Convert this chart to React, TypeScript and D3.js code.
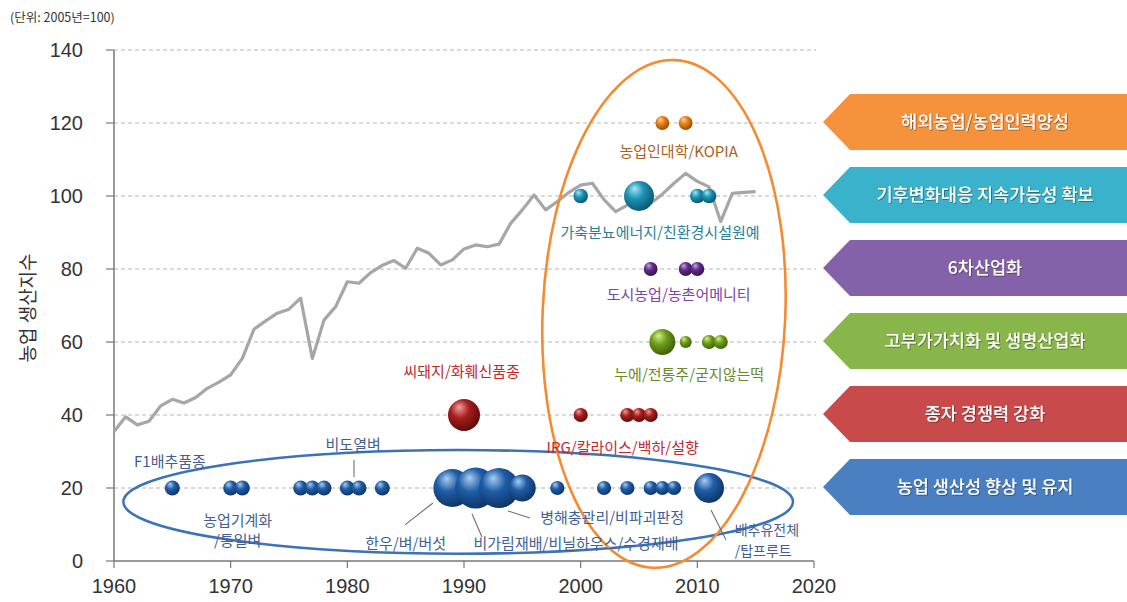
import React from "react";
import * as d3 from "d3";

// ---------- data ----------
const lineYears = [1960, 1961, 1962, 1963, 1964, 1965, 1966, 1967, 1968, 1969, 1970, 1971, 1972, 1973, 1974, 1975, 1976, 1977, 1978, 1979, 1980, 1981, 1982, 1983, 1984, 1985, 1986, 1987, 1988, 1989, 1990, 1991, 1992, 1993, 1994, 1995, 1996, 1997, 1998, 1999, 2000, 2001, 2002, 2003, 2004, 2005, 2006, 2007, 2008, 2009, 2010, 2011, 2012, 2013, 2014, 2015];
const lineValues = [35.5, 39.5, 37.3, 38.3, 42.5, 44.3, 43.3, 44.8, 47.3, 49.0, 51.0, 55.5, 63.5, 65.8, 67.9, 69.0, 72.0, 55.5, 66.0, 69.7, 76.5, 76.1, 79.0, 81.0, 82.3, 80.2, 85.7, 84.3, 81.1, 82.5, 85.5, 86.6, 86.1, 86.8, 92.5, 96.2, 100.3, 96.2, 98.5, 101.0, 103.0, 103.5, 99.0, 95.7, 97.5, 99.5, 98.0, 100.5, 103.5, 106.2, 104.0, 102.5, 93.0, 100.7, 101.0, 101.2];

const yTicks = [0, 20, 40, 60, 80, 100, 120, 140];
const xTicks = [1960, 1970, 1980, 1990, 2000, 2010, 2020];

const rowValues = [120, 100, 80, 60, 40, 20];
const rowTitles = ["해외농업/농업인력양성", "기후변화대응 지속가능성 확보", "6차산업화", "고부가가치화 및 생명산업화", "종자 경쟁력 강화", "농업 생산성 향상 및 유지"];

const orangeYears = [2007, 2009];
const orangeSizes = [0.85, 0.85];
const tealYears = [2000, 2005, 2010, 2011];
const tealSizes = [0.95, 4.0, 0.95, 0.95];
const purpleYears = [2006, 2009, 2010];
const purpleSizes = [0.85, 0.85, 0.85];
const greenYears = [2007, 2009, 2011, 2012];
const greenSizes = [3.0, 0.65, 0.9, 0.9];
const redYears = [1990, 2000, 2004, 2005, 2006];
const redSizes = [4.55, 0.9, 0.9, 0.9, 0.9];
const blueYears = [1965, 1970, 1971, 1976, 1977, 1978, 1980, 1981, 1983, 1989, 1991, 1993, 1995, 1998, 2002, 2004, 2006, 2007, 2008, 2011];
const blueSizes = [1, 1, 1, 1, 1, 1, 1, 1, 1, 6.4, 7.5, 7.1, 3.2, 0.9, 0.9, 0.9, 0.9, 0.9, 0.9, 4.0];

// annotation labels
const labelTexts = ["농업인대학/KOPIA", "가축분뇨에너지/친환경시설원예", "도시농업/농촌어메니티", "누에/전통주/굳지않는떡", "씨돼지/화훼신품종", "IRG/칼라이스/백하/설향", "F1배추품종", "비도열벼", "농업기계화", "/통일벼", "한우/벼/버섯", "비가림재배/비닐하우스/수경재배", "병해충관리/비파괴판정", "배추유전체", "/탑프루트"];
const labelYears = [2008.4, 2006.8, 2008.4, 2009.3, 1989.8, 2003.6, 1964.8, 1980.5, 1970.6, 1970.6, 1985.0, 1999.6, 2002.7, 2013.2, 2013.2];
const labelValues = [112.3, 90.1, 72.9, 51.2, 51.8, 31.0, 27.1, 31.8, 11.2, 5.5, 4.9, 4.7, 12.0, 8.6, 2.8];
const labelGroups = ["orange", "teal", "purple", "green", "red", "red", "blue", "blue", "blue", "blue", "blue", "blue", "blue", "blue", "blue"];
const labelAnchors = ["middle", "middle", "middle", "middle", "middle", "middle", "middle", "middle", "middle", "middle", "middle", "middle", "middle", "start", "start"];
const labelSizes = [15, 15, 15, 15, 15, 15, 15, 15, 15, 15, 15, 15, 15, 14, 14];

// leader lines
const leaderFromYears = [1980.57, 1984.94, 1990.69, 1993.77, 2011.17];
const leaderFromValues = [27.7, 9.9, 12.9, 13.7, 14.0];
const leaderToYears = [1980.57, 1987.34, 1991.54, 1995.66, 2012.46];
const leaderToValues = [23.0, 15.9, 6.6, 11.8, 5.75];

// ---------- styles ----------
const W = 1127;
const H = 602;
const KR = "'Noto Sans CJK KR', 'Noto Sans', sans-serif";
const NUM = "'Liberation Sans', Arial, sans-serif";

const palette: Record<string, { base: string; light: string; dark: string; text: string; arrow: string }> = {
  orange: { base: "#e67e16", light: "#fbd29a", dark: "#9c4a00", text: "#a8621e", arrow: "#f7923c" },
  teal: { base: "#1d93b5", light: "#a6e6f5", dark: "#0b5670", text: "#2b7f96", arrow: "#3bb2cb" },
  purple: { base: "#5f2c8a", light: "#c6a4e0", dark: "#36124f", text: "#7d43a5", arrow: "#8462aa" },
  green: { base: "#6e9d1c", light: "#d9f08c", dark: "#3f5e08", text: "#6a8a28", arrow: "#88b64a" },
  red: { base: "#a81e1e", light: "#f2a0a0", dark: "#5e0a0a", text: "#c2292e", arrow: "#c94a4b" },
  blue: { base: "#1f5da6", light: "#a8cdf2", dark: "#0c3466", text: "#3f5f94", arrow: "#4a80c2" },
};

const rowGroups = ["orange", "teal", "purple", "green", "red", "blue"];

export default function App() {
  const x = d3.scaleLinear().domain([1960, 2020]).range([114, 814]);
  const y = d3.scaleLinear().domain([0, 140]).range([561, 50]);
  const r = d3.scaleSqrt().domain([0, 1]).range([0, 7.5]);

  const line = d3
    .line<number>()
    .x((_, i) => x(lineYears[i]))
    .y((d) => y(d));

  const bubbleSets = [
    { g: "orange", v: 120, ys: orangeYears, ss: orangeSizes },
    { g: "teal", v: 100, ys: tealYears, ss: tealSizes },
    { g: "purple", v: 80, ys: purpleYears, ss: purpleSizes },
    { g: "green", v: 60, ys: greenYears, ss: greenSizes },
    { g: "red", v: 40, ys: redYears, ss: redSizes },
    { g: "blue", v: 20, ys: blueYears, ss: blueSizes },
  ];

  const pxPerYear = x(1961) - x(1960);
  const pxPerUnit = y(0) - y(1);

  const blueEll = { cx: x(1989.5), cy: y(16.2), rx: 28.7 * pxPerYear, ry: 14.2 * pxPerUnit, rot: 0 };
  const orangeEll = { cx: x(2007.14), cy: y(67.7), rx: 10.4 * pxPerYear, ry: 69.6 * pxPerUnit, rot: 2.5 };

  const arrowTip = 823;
  const arrowShoulder = 850;
  const arrowHalf = 28;

  return (
    <svg width={W} height={H} style={{ position: "absolute", left: 0, top: 0, display: "block", background: "#fff" }}>
      <defs>
        {Object.keys(palette).map((k) => (
          <radialGradient key={k} id={`grad-${k}`} cx="40%" cy="38%" r="65%" fx="35%" fy="25%">
            <stop offset="0%" stopColor={palette[k].light} />
            <stop offset="45%" stopColor={palette[k].base} />
            <stop offset="100%" stopColor={palette[k].dark} />
          </radialGradient>
        ))}
        <filter id="txtShadow" x="-10%" y="-30%" width="120%" height="160%">
          <feDropShadow dx="0.8" dy="0.8" stdDeviation="0.6" floodColor="#000" floodOpacity="0.45" />
        </filter>
      </defs>

      <text x={10} y={22} fontFamily={KR} fontSize={12.5} fill="#333">(단위: 2005년=100)</text>

      {yTicks.filter((t) => t > 0).map((t) => (
        <line key={`g${t}`} x1={x(1960)} x2={x(2020) + 2} y1={y(t)} y2={y(t)} stroke="#b5b5b5" strokeWidth={1} strokeDasharray="4,3" />
      ))}

      <line x1={x(1960)} x2={x(1960)} y1={y(140)} y2={y(0)} stroke="#777" strokeWidth={1.5} />
      <line x1={x(1960)} x2={x(2020)} y1={y(0)} y2={y(0)} stroke="#777" strokeWidth={1.5} />
      {yTicks.map((t) => (
        <g key={`yt${t}`}>
          <line x1={x(1960) - 8} x2={x(1960)} y1={y(t)} y2={y(t)} stroke="#777" strokeWidth={1.2} />
          <text x={83} y={y(t)} dy="0.36em" textAnchor="end" fontFamily={NUM} fontSize={20} fill="#333">{t}</text>
        </g>
      ))}
      {xTicks.map((t) => (
        <g key={`xt${t}`}>
          <line x1={x(t)} x2={x(t)} y1={y(0)} y2={y(0) + 7} stroke="#777" strokeWidth={1.2} />
          <text x={x(t)} y={593} textAnchor="middle" fontFamily={NUM} fontSize={20} fill="#333">{t}</text>
        </g>
      ))}
      <text transform={`translate(26,${308}) rotate(-90)`} textAnchor="middle" dominantBaseline="central" fontFamily={KR} fontSize={19} fill="#333">농업 생산지수</text>

      <path d={line(lineValues) || ""} fill="none" stroke="#a6a6a6" strokeWidth={3.2} strokeLinejoin="round" />

      <ellipse cx={blueEll.cx} cy={blueEll.cy} rx={blueEll.rx} ry={blueEll.ry} fill="none" stroke="#3b72b8" strokeWidth={2.6} />
      <ellipse transform={`rotate(${orangeEll.rot},${orangeEll.cx},${orangeEll.cy})`} cx={orangeEll.cx} cy={orangeEll.cy} rx={orangeEll.rx} ry={orangeEll.ry} fill="none" stroke="#f58a30" strokeWidth={2.6} />

      {leaderFromYears.map((yr, i) => (
        <line key={`ld${i}`} x1={x(yr)} y1={y(leaderFromValues[i])} x2={x(leaderToYears[i])} y2={y(leaderToValues[i])} stroke="#6e6e6e" strokeWidth={1.1} />
      ))}

      {bubbleSets.map((s) =>
        s.ys.map((yr, i) => (
          <circle key={`${s.g}${i}`} cx={x(yr)} cy={y(s.v)} r={r(s.ss[i])} fill={`url(#grad-${s.g})`} />
        ))
      )}

      {labelTexts.map((t, i) => (
        <text key={`lb${i}`} x={x(labelYears[i])} y={y(labelValues[i])} dy="0.36em" textAnchor={labelAnchors[i]} fontFamily={KR} fontSize={labelSizes[i]} fill={palette[labelGroups[i]].text}>{t}</text>
      ))}

      {rowValues.map((v, i) => {
        const yc = y(v) - 1;
        const c = palette[rowGroups[i]];
        const pts = [
          [arrowTip, yc],
          [arrowShoulder, yc - arrowHalf],
          [W + 2, yc - arrowHalf],
          [W + 2, yc + arrowHalf],
          [arrowShoulder, yc + arrowHalf],
        ];
        return (
          <g key={`ar${i}`}>
            <polygon points={pts.map((p) => p.join(",")).join(" ")} fill={c.arrow} />
            <text x={985} y={yc} dy="0.36em" textAnchor="middle" fontFamily={KR} fontSize={17.5} fontWeight={500} fill="#fff" filter="url(#txtShadow)">{rowTitles[i]}</text>
          </g>
        );
      })}
    </svg>
  );
}
